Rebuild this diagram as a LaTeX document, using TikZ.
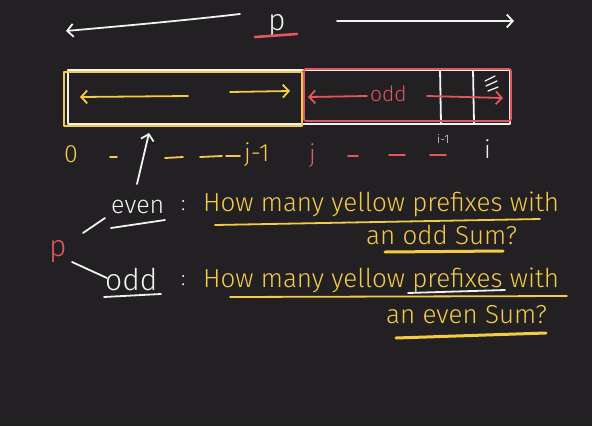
\documentclass[tikz,border=0pt]{standalone}
\usepackage{fontspec}
\setmainfont{Fira Sans Light}
\usetikzlibrary{arrows.meta}
\definecolor{bg}{HTML}{222022}
\definecolor{yel}{HTML}{F4CB45}
\definecolor{rd}{HTML}{E0585E}
\definecolor{wh}{HTML}{F2F2F2}
\tikzset{
  pen/.style={line width=1.8pt, line cap=round, line join=round},
  tipend/.style={-{Straight Barb[length=6pt,width=13pt,line width=1.8pt]}},
  lbl/.style={inner sep=0pt, anchor=base west},
  huge/.style={font=\fontsize{30}{32}\selectfont},
  big/.style={font=\fontsize{25}{28}\selectfont},
  mid/.style={font=\fontsize{21}{24}\selectfont},
  qtxt/.style={font=\fontsize{26}{28}\selectfont},
  sml/.style={font=\fontsize{12}{13}\selectfont},
}
\begin{document}
\begin{tikzpicture}[x=1pt,y=-1pt]
\useasboundingbox (0,0) rectangle (592,426);
\fill[bg] (0,0) rectangle (592,426);

% top p with arrows
\node[lbl, huge, text=wh] (ptop) at (268,30) {p};
\draw[pen, rd, line width=2.6pt] (255,37) -- (297,34);
\coordinate (tl1) at (240,14);
\coordinate (tl2) at (66,31);
\draw[pen, wh, tipend] (tl1) .. controls (170,22) and (110,27) .. (tl2);
\coordinate (tr1) at (337,21);
\coordinate (tr2) at (514,21);
\draw[pen, wh, tipend] (tr1) -- (tr2);

% array
\node[draw=wh, pen, minimum width=442pt, minimum height=54pt, inner sep=0pt, anchor=north west] (arr) at (67,69) {};
\draw[pen, wh] (440,69) -- (441,123);
\draw[pen, wh] (473,69) -- (474,123);
\node[draw=yel, pen, minimum width=238pt, minimum height=54pt, inner sep=0pt, anchor=north west] (ybox) at (63,71) {};
\node[draw=rd, pen, minimum width=207pt, minimum height=52pt, inner sep=0pt, anchor=north west, rounded corners=2pt] (rbox) at (303,68) {};

% yellow arrows
\coordinate (ya1) at (188,96);
\coordinate (ya2) at (80,97);
\draw[pen, yel, tipend] (ya1) -- (ya2);
\coordinate (yb1) at (230,92);
\coordinate (yb2) at (290,91);
\draw[pen, yel, tipend] (yb1) -- (yb2);

% red arrows and odd
\coordinate (ra1) at (367,96);
\coordinate (ra2) at (308,97);
\draw[pen, rd, tipend] (ra1) -- (ra2);
\node[lbl, mid, text=rd] (oddr) at (370,101) {odd};
\coordinate (rb1) at (427,96);
\coordinate (rb2) at (503,98);
\draw[pen, rd, tipend] (rb1) -- (rb2);
\draw[pen, wh, line width=1.3pt] (485,81) -- (495,76) (486,86) -- (497,81) (488,91) -- (498,87);

% index labels
\node[lbl, big, text=yel] (zero) at (64,162) {0};
\draw[pen, yel] (110,157) -- (117,157);
\draw[pen, yel] (165,158) -- (183,157);
\draw[pen, yel] (200,157) -- (222,156);
\draw[pen, yel] (226,156) -- (240,156);
\node[lbl, big, text=yel] (jm1) at (244,161) {j-1};
\node[lbl, big, text=rd] (jr) at (309,162) {j};
\draw[pen, rd] (348,156) -- (358,156);
\draw[pen, rd] (389,155) -- (405,155);
\draw[pen, rd] (430,155) -- (446,155);
\node[lbl, sml, text=wh] (im1) at (437,143) {i-1};
\node[lbl, big, text=wh] (ii) at (484,158) {i};
\coordinate (ua1) at (137,184);
\coordinate (ua2) at (149,133);
\draw[pen, wh, tipend] (ua1) -- (ua2);

% lower part
\node[lbl, huge, text=rd] (pl) at (49,256) {p};
\node[lbl, big, text=wh] (even) at (111,213) {even};
\draw[pen, wh] (111,228) -- (165,220);
\node[lbl, mid, text=wh] (colon1) at (181,210) {:};
\node[lbl, huge, text=wh] (odd) at (105,290) {odd};
\draw[pen, wh] (104,297) -- (161,294);
\node[lbl, mid, text=wh] (colon2) at (181,285) {:};
\coordinate (b1) at (83,233);
\coordinate (b2) at (105,218);
\draw[pen, wh] (b1) -- (b2);
\coordinate (c1) at (72,262);
\coordinate (c2) at (107,278);
\draw[pen, wh] (c1) -- (c2);

\node[lbl, qtxt, text=yel] (q1) at (203,211) {How many yellow prefixes with};
\draw[pen, yel] (215,225) -- (540,219);
\node[lbl, qtxt, text=yel] (q1b) at (366,244) {an odd Sum?};
\draw[pen, yel, line width=3pt] (385,252) -- (503,251);
\node[lbl, qtxt, text=yel] (q2) at (203,287) {How many yellow prefixes with};
\draw[pen, yel] (230,297) -- (567,296);
\draw[pen, wh] (408,293) -- (505,290);
\node[lbl, qtxt, text=yel] (q2b) at (386,323) {an even Sum?};
\draw[pen, yel, line width=3pt] (396,338) -- (546,333);
\end{tikzpicture}
\end{document}
